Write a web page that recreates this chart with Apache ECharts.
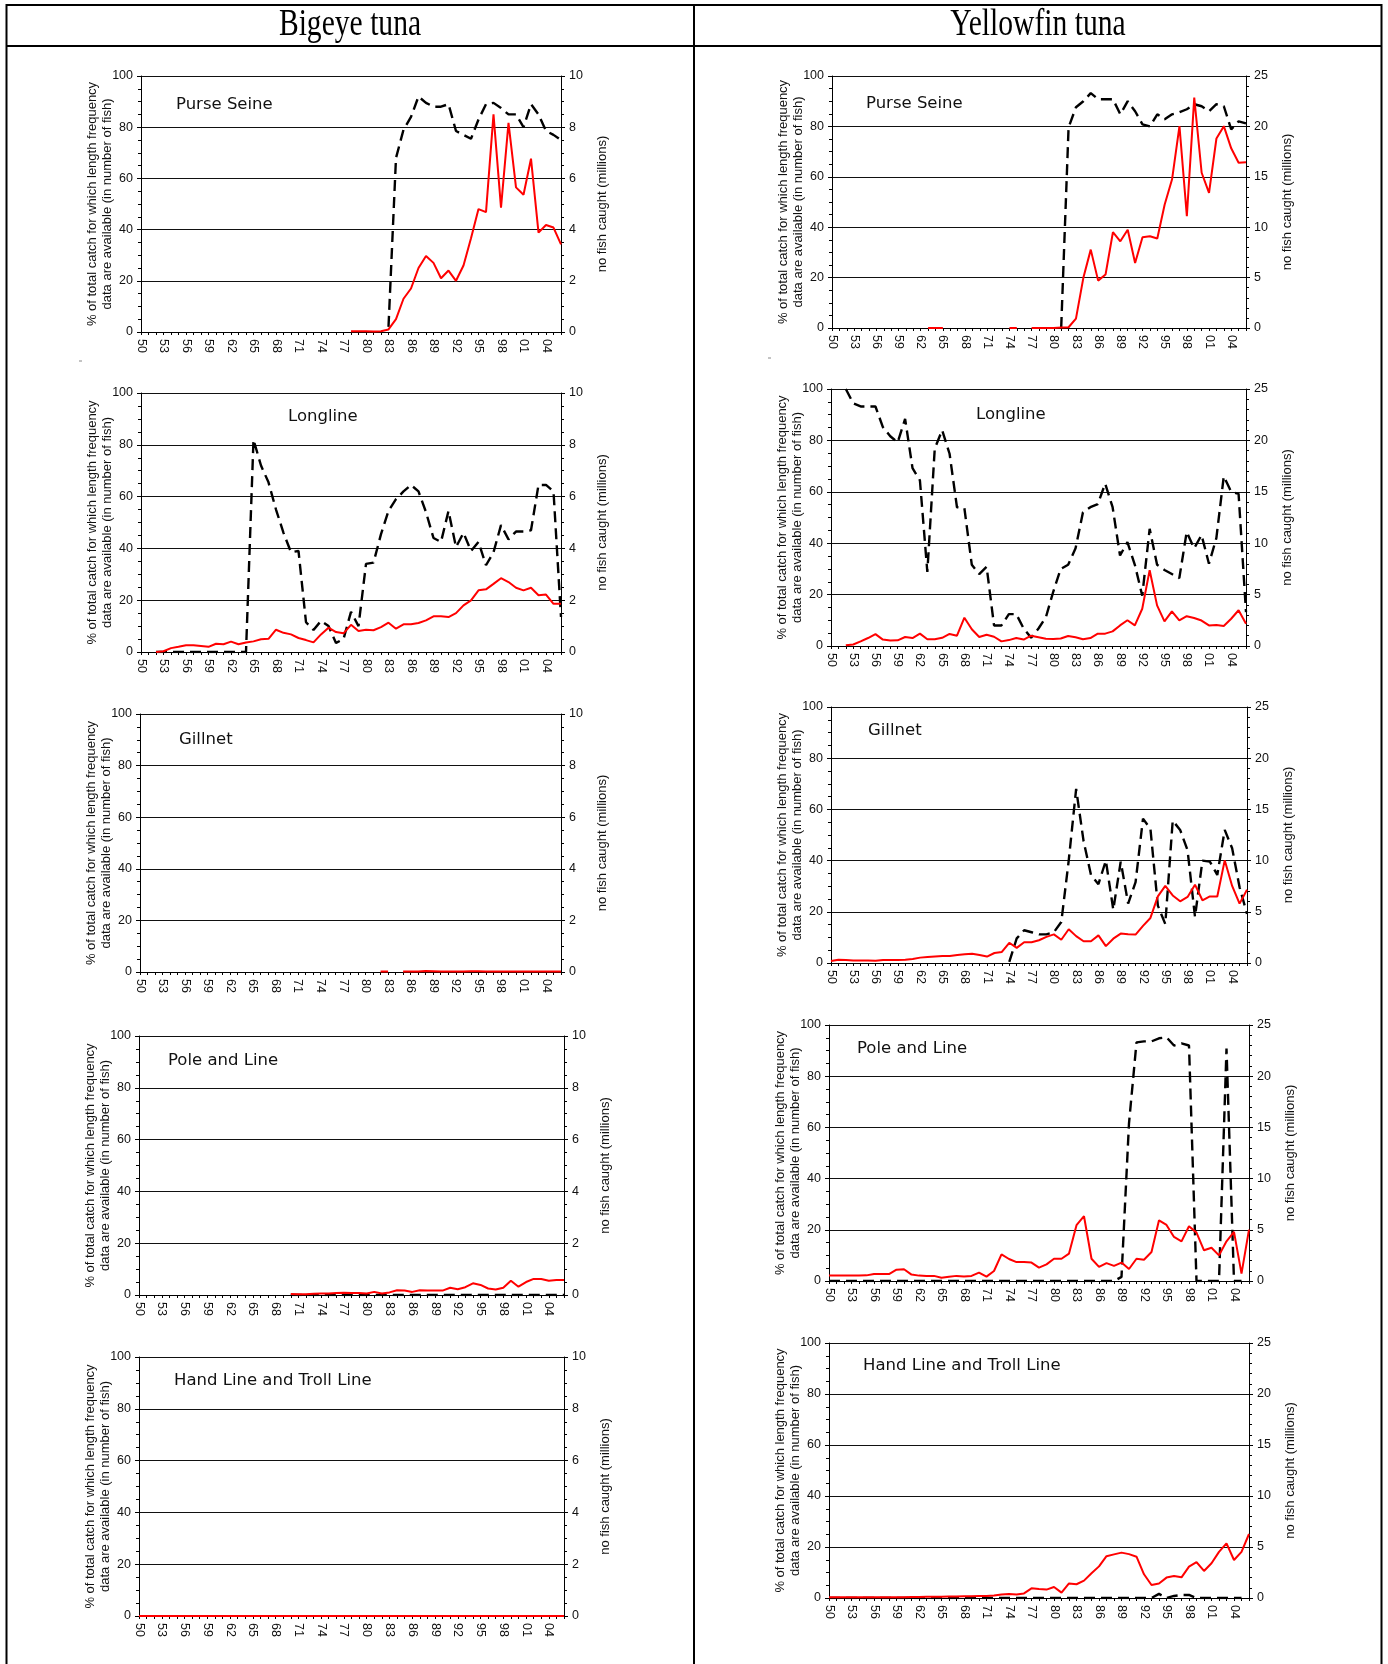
<!DOCTYPE html>
<html>
<head>
<meta charset="utf-8">
<title>Bigeye and Yellowfin tuna - length frequency coverage</title>
<script src="https://cdn.jsdelivr.net/npm/echarts@6/dist/echarts.min.js"></script>
<style>
  html, body { margin: 0; padding: 0; background: #fff; }
  #chart { width: 1388px; height: 1664px; }
</style>
</head>
<body>
<div id="chart"></div>
<script>
const _ = null;

// year tick labels, 1950 - 2006
const years = ['50','51','52','53','54','55','56','57','58','59',
  '60','61','62','63','64','65','66','67','68','69',
  '70','71','72','73','74','75','76','77','78','79',
  '80','81','82','83','84','85','86','87','88','89',
  '90','91','92','93','94','95','96','97','98','99',
  '00','01','02','03','04','05','06'];

// ---- Bigeye tuna: % of catch with length frequency (red) / no fish caught, millions (dashed)
const betPsPct = [_,_,_,_,_,_,_,_,_,_,
  _,_,_,_,_,_,_,_,_,_,
  _,_,_,_,_,_,_,_,0.3,0.3,
  0.3,0.2,0.3,1,5,13,17,25,29.7,27,
  21,24,20,26,36.6,48,46.8,85,48.6,81.7,
  56.5,53.6,67.7,38.8,41.8,40.8,34.2];
const betPsFish = [_,_,_,_,_,_,_,_,_,_,
  _,_,_,_,_,_,_,_,_,_,
  _,_,_,_,_,_,_,_,_,_,
  _,_,_,0.2,6.8,7.9,8.4,9.2,8.95,8.8,
  8.8,8.9,7.85,7.7,7.55,8.3,8.9,8.95,8.75,8.5,
  8.5,8.0,8.9,8.5,7.85,7.7,7.5];

const betLlPct = [_,_,0,0.3,1.5,2,2.6,2.6,2.3,2,
  3.2,3,4,3,3.7,4.1,4.9,5.1,8.6,7.4,
  6.8,5.4,4.6,3.7,6.8,9.4,7.7,7.2,10.5,8.1,
  8.6,8.4,9.6,11.3,9,10.7,10.7,11.2,12.2,13.8,
  13.8,13.5,15,18,19.9,23.8,24.2,26.3,28.5,27,
  24.8,23.8,24.8,21.9,22.2,18.6,18.6];
const betLlFish = [_,_,0,0,0,0,0,0,0,0,
  0,0,0,0,0,8.2,7.2,6.55,5.5,4.6,
  3.85,3.9,1.15,0.85,1.2,1.0,0.35,0.5,1.55,1.0,
  3.4,3.45,4.55,5.45,5.9,6.2,6.45,6.2,5.4,4.4,
  4.25,5.45,4.05,4.6,3.9,4.25,3.35,3.85,4.9,4.35,
  4.65,4.65,4.7,6.45,6.45,6.2,1.35];

const betGnPct = [_,_,_,_,_,_,_,_,_,_,
  _,_,_,_,_,_,_,_,_,_,
  _,_,_,_,_,_,_,_,_,_,
  _,_,0.2,0.2,_,0.2,0.2,0.2,0.4,0.3,
  0.2,0.2,0.2,0.2,0.3,0.3,0.2,0.2,0.2,0.2,
  0.2,0.2,0.2,0.2,0.2,0.2,0.2];
const betGnFish = [];

const betPlPct = [_,_,_,_,_,_,_,_,_,_,
  _,_,_,_,_,_,_,_,_,_,
  0.4,0.3,0.3,0.5,0.6,0.6,0.8,0.9,0.8,0.8,
  0.6,1.2,0.6,1,1.8,1.7,1.2,1.8,1.7,1.7,
  1.7,2.8,2.2,3,4.5,3.9,2.5,2.1,2.8,5.5,
  3.2,5,6.2,6.2,5.5,5.8,5.8];
const betPlFish = [_,_,_,_,_,_,_,_,_,_,
  _,_,_,_,_,_,_,_,_,_,
  0,0,0,0,0,0,0,0,0,0,
  0,0,0,0,0,0,0,0,0,0,
  0,0,0,0,0,0,0,0,0,0,
  0,0,0,0,0,0,0];

const betHlPct = [0,0,0,0,0,0,0,0,0,0,
  0,0,0,0,0,0,0,0,0,0,
  0,0,0,0,0,0,0,0,0,0,
  0,0,0,0,0,0,0,0,0,0,
  0,0,0,0,0,0,0,0,0,0,
  0,0,0,0,0,0,0];
const betHlFish = [];

// ---- Yellowfin tuna
const yftPsPct = [_,_,_,_,_,_,_,_,_,_,
  _,_,_,0,0,0,_,_,_,_,
  _,_,_,_,0,0,_,0,0,0,
  0,0.2,0.3,3.7,19.9,31.1,18.8,21.2,38,34.4,
  39,25.8,36,36.4,35.5,49,59,80.1,44.4,91.4,
  61.6,53.6,75.2,80.1,71.3,65.6,65.8];
const yftPsFish = [_,_,_,_,_,_,_,_,_,_,
  _,_,_,_,_,_,_,_,_,_,
  _,_,_,_,_,_,_,_,_,_,
  _,0,19.9,21.9,22.5,23.3,22.7,22.7,22.7,21.2,
  22.5,21.5,20.2,20,21.2,20.7,21.2,21.4,21.7,22.2,
  22,21.5,22.2,22,19.7,20.5,20.3];

const yftLlPct = [_,_,0.3,0.6,1.8,3.1,4.6,2.5,2.1,2.2,
  3.5,3.1,4.8,2.6,2.6,3.2,4.7,4,11,6.5,
  3.5,4.4,3.6,1.8,2.3,3.1,2.5,4,3.4,2.8,
  2.7,2.9,3.9,3.4,2.6,3.1,4.8,4.8,5.7,8,
  10,8,14.5,29.5,15.8,9.6,13.5,10,11.6,10.9,
  9.9,8,8.2,7.8,10.6,13.9,8.7];
const yftLlFish = [_,_,25,23.6,23.3,23.3,23.3,21.3,20.4,19.8,
  22.1,17.3,16.1,7.2,19.2,21,18.7,13.5,13.4,7.9,
  7,7.7,2,2,3.1,3.1,1.7,0.8,1.7,2.8,
  5.3,7.5,7.9,9.5,13,13.5,13.8,15.8,13.5,8.8,
  10.1,7.9,4.9,11.4,7.9,7.4,7,6.6,11.1,9.5,
  10.8,8,10.5,16.5,15,14.8,3.3];

const yftGnPct = [0.8,1.3,1.2,1,1,1,0.9,1.2,1.2,1.2,
  1.3,1.6,2.1,2.3,2.5,2.7,2.7,3.1,3.4,3.6,
  3.1,2.5,3.9,4.3,7.9,5.9,8.1,8.1,8.9,10.2,
  11.2,9.1,13.2,10.5,8.5,8.5,10.8,6.6,9.5,11.5,
  11.2,11.1,14.5,17.6,26,30.1,26.4,24.1,25.8,30.6,
  24.5,26,26,40.1,30.1,23.2,28.6];
const yftGnFish = [_,_,_,_,_,_,_,_,_,_,
  _,_,_,_,_,_,_,_,_,_,
  _,_,_,_,0.1,2.4,3.2,3,2.8,2.8,
  3,4,10,17,11.9,8.6,7.7,10,5.2,9.9,
  5.8,7.9,14.1,13.1,5.6,3.8,13.9,13,11,4.5,
  10,9.9,8.6,13,11.2,7.4,4.8];

const yftPlPct = [2.1,2.1,2.1,2.1,2.1,2.2,2.7,2.7,2.7,4.4,
  4.6,2.5,2.1,2,2,1.3,1.7,2,1.8,2,
  3.3,1.7,3.9,10.4,8.6,7.4,7.4,7.2,5.2,6.5,
  8.7,8.7,10.7,21.8,25.3,8.7,5.5,7,5.9,7.2,
  4.7,8.7,8.3,11.3,23.7,21.9,17.2,15.5,21.4,18.9,
  12,13,10,15.5,19.2,2.9,20.1];
const yftPlFish = [0,0,0,0,0,0,0,0,0,0,
  0,0,0,0,0,0,0,0,0,0,
  0,0,0,0,0,0,0,0,0,0,
  0,0,0,0,0,0,0,0,0,0.4,
  15.4,23.3,23.4,23.4,23.7,23.8,23,23.2,23,0,
  0,0,0,22.7,0,0,_];

const yftHlPct = [0.3,0.3,0.3,0.3,0.3,0.3,0.3,0.3,0.3,0.3,
  0.3,0.4,0.4,0.5,0.5,0.5,0.6,0.6,0.7,0.7,
  0.8,0.8,1,1.4,1.6,1.4,1.8,3.8,3.5,3.3,
  4.3,2.1,5.7,5.4,6.8,9.7,12.4,16.4,17.1,17.8,
  17.2,16.2,9.3,5.1,5.7,8,8.6,8.1,12.3,14.1,
  10.6,13.6,18.1,21.4,14.9,18.1,25.1];
const yftHlFish = [0,0,0,0,0,0,0,0,0,0,
  0,0,0,0,0,0,0,0,0,0,
  0,0,0,0,0,0,0,0,0,0,
  0,0,0,0,0,0,0,0,0,0,
  0,0,0,0,0.4,0,0.2,0.3,0.3,0,
  0,0,0,0,0,0,_];

const speciesTitles = ['Bigeye tuna', 'Yellowfin tuna'];
const pctName = '% of total catch for which length frequency\ndata are available (in number of fish)';
const fishName = 'no fish caught (millions)';

// panel layout (pixels) and which arrays go where
const panels = [
  { title: 'Purse Seine', pct: betPsPct, fish: betPsFish, fishMax: 10, fishStep: 2, fishMinor: 4, left: 141, top: 76, width: 420, height: 256, tx: 176, ty: 96 },
  { title: 'Longline', pct: betLlPct, fish: betLlFish, fishMax: 10, fishStep: 2, fishMinor: 4, left: 141, top: 393, width: 420, height: 259, tx: 288, ty: 408 },
  { title: 'Gillnet', pct: betGnPct, fish: betGnFish, fishMax: 10, fishStep: 2, fishMinor: 4, left: 140, top: 714, width: 421, height: 258, tx: 179, ty: 731 },
  { title: 'Pole and Line', pct: betPlPct, fish: betPlFish, fishMax: 10, fishStep: 2, fishMinor: 4, left: 139, top: 1036, width: 425, height: 259, tx: 168, ty: 1052 },
  { title: 'Hand Line and Troll Line', pct: betHlPct, fish: betHlFish, fishMax: 10, fishStep: 2, fishMinor: 4, left: 139, top: 1357, width: 425, height: 259, tx: 174, ty: 1372 },
  { title: 'Purse Seine', pct: yftPsPct, fish: yftPsFish, fishMax: 25, fishStep: 5, fishMinor: 5, left: 832, top: 76, width: 414, height: 252, tx: 866, ty: 95 },
  { title: 'Longline', pct: yftLlPct, fish: yftLlFish, fishMax: 25, fishStep: 5, fishMinor: 5, left: 831, top: 389, width: 415, height: 257, tx: 976, ty: 406 },
  { title: 'Gillnet', pct: yftGnPct, fish: yftGnFish, fishMax: 25, fishStep: 5, fishMinor: 5, left: 831, top: 707, width: 416, height: 256, tx: 868, ty: 722 },
  { title: 'Pole and Line', pct: yftPlPct, fish: yftPlFish, fishMax: 25, fishStep: 5, fishMinor: 5, left: 829, top: 1025, width: 420, height: 256, tx: 857, ty: 1040 },
  { title: 'Hand Line and Troll Line', pct: yftHlPct, fish: yftHlFish, fishMax: 25, fishStep: 5, fishMinor: 5, left: 829, top: 1343, width: 420, height: 255, tx: 863, ty: 1357 }
];

const axisFont = { fontFamily: 'Liberation Sans', fontSize: 12.5, color: '#111' };
const nameFont = { fontFamily: 'Liberation Sans', fontSize: 13, color: '#111' };
const ink = '#000';

const grids = [], xAxes = [], yAxes = [], series = [], titles = [];

panels.forEach((p, i) => {
  grids.push({ left: p.left, top: p.top, width: p.width, height: p.height, containLabel: false });
  titles.push({
    text: p.title, left: p.tx, top: p.ty, padding: 0,
    textStyle: { fontFamily: 'DejaVu Sans', fontSize: 16.5, fontWeight: 'normal', color: '#111' }
  });
  xAxes.push({
    type: 'category', gridIndex: i, data: years, boundaryGap: false,
    axisLine: { lineStyle: { color: ink, width: 1 } },
    axisTick: { show: true, interval: 0, length: 3, lineStyle: { color: ink } },
    axisLabel: Object.assign({ interval: 2, rotate: -90, margin: 7 }, axisFont),
    splitLine: { show: false }
  });
  yAxes.push({
    type: 'value', gridIndex: i, position: 'left', min: 0, max: 100, interval: 20,
    name: pctName, nameLocation: 'middle', nameRotate: 90, nameGap: 26, nameMoveOverlap: false,
    nameTextStyle: Object.assign({ lineHeight: 15 }, nameFont),
    axisLine: { show: true, lineStyle: { color: ink, width: 1 } },
    axisTick: { show: true, length: 4, lineStyle: { color: ink } },
    minorTick: { show: true, splitNumber: 4, length: 3, lineStyle: { color: ink } },
    axisLabel: Object.assign({ margin: 8 }, axisFont),
    splitLine: { show: true, lineStyle: { color: '#111', width: 1 } }
  });
  yAxes.push({
    type: 'value', gridIndex: i, position: 'right', min: 0, max: p.fishMax, interval: p.fishStep,
    name: fishName, nameLocation: 'middle', nameRotate: 90, nameGap: 35, nameMoveOverlap: false,
    nameTextStyle: nameFont,
    axisLine: { show: true, lineStyle: { color: ink, width: 1 } },
    axisTick: { show: true, length: 4, lineStyle: { color: ink } },
    minorTick: { show: true, splitNumber: p.fishMinor, length: 3, lineStyle: { color: ink } },
    axisLabel: Object.assign({ margin: 8 }, axisFont),
    splitLine: { show: false }
  });
  series.push({
    type: 'line', xAxisIndex: i, yAxisIndex: 2 * i + 1, data: p.fish,
    symbol: 'none', connectNulls: false, clip: true,
    lineStyle: { color: '#000', width: 2.4, type: [11, 6] }
  });
  series.push({
    type: 'line', xAxisIndex: i, yAxisIndex: 2 * i, data: p.pct,
    symbol: 'none', connectNulls: false, clip: true,
    lineStyle: { color: '#ff0000', width: 2 }
  });
});

const rule = (x1, y1, x2, y2, w, c) => ({
  type: 'line', silent: true,
  shape: { x1: x1, y1: y1, x2: x2, y2: y2 },
  style: { stroke: c || '#000', lineWidth: w }
});

const headText = (txt, x) => ({
  type: 'text', x: x, y: 25, scaleX: 0.8, silent: true,
  style: {
    text: txt, fill: '#000', font: '37px "Liberation Serif"',
    textAlign: 'center', textVerticalAlign: 'middle', align: 'center', verticalAlign: 'middle'
  }
});

const graphic = [
  rule(6, 5, 1382, 5, 2),
  rule(6, 46, 1382, 46, 2),
  rule(6.5, 4, 6.5, 1664, 2),
  rule(694, 4, 694, 1664, 2),
  rule(1381.5, 4, 1381.5, 1664, 2),
  rule(79, 361, 82, 361, 1, '#888'),
  rule(768, 358, 771, 358, 1, '#888'),
  headText(speciesTitles[0], 350),
  headText(speciesTitles[1], 1038)
];

const chart = echarts.init(document.getElementById('chart'), null, { width: 1388, height: 1664 });
chart.setOption({
  animation: false,
  backgroundColor: '#fff',
  title: titles,
  grid: grids,
  xAxis: xAxes,
  yAxis: yAxes,
  series: series,
  graphic: graphic
});
</script>
</body>
</html>
